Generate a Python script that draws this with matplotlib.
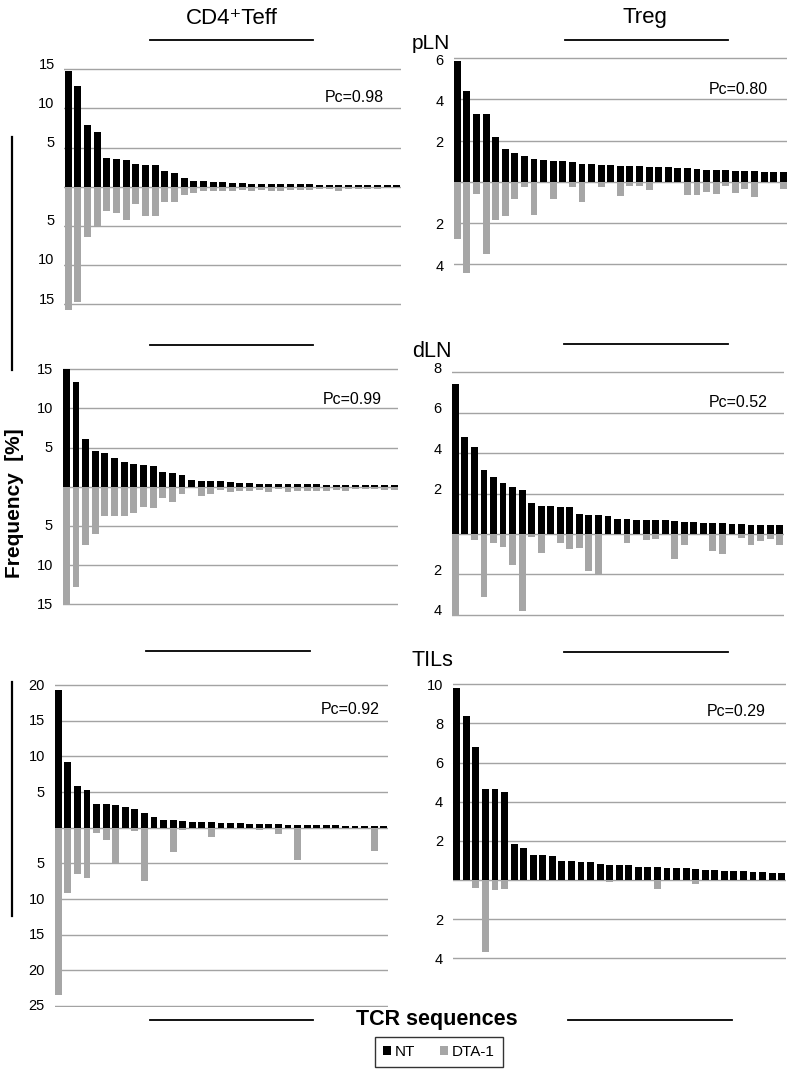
import matplotlib
matplotlib.use("Agg")
import matplotlib.pyplot as plt
from matplotlib.patches import Patch
from matplotlib.lines import Line2D
from matplotlib.transforms import ScaledTranslation

plt.rcParams['font.family'] = ['Liberation Sans', 'DejaVu Sans']

W, H = 798, 1070

# --- data (frequency in %, NT above / DTA-1 below) ---
cd4_pln_nt = [14.8, 12.8, 7.9, 7.0, 3.7, 3.6, 3.4, 2.9, 2.8, 2.8, 2.0, 1.8, 1.1, 0.75, 0.7,
              0.6, 0.55, 0.45, 0.42, 0.4, 0.4, 0.38, 0.35, 0.33, 0.32, 0.3, 0.28, 0.26, 0.25,
              0.23, 0.22, 0.2, 0.2, 0.18, 0.17]
cd4_pln_dta = [15.7, 14.7, 6.4, 5.0, 3.1, 3.4, 4.2, 2.2, 3.7, 3.7, 1.9, 1.9, 1.0, 0.8, 0.55,
               0.55, 0.6, 0.5, 0.45, 0.5, 0.45, 0.5, 0.5, 0.4, 0.4, 0.45, 0.35, 0.35, 0.5,
               0.3, 0.3, 0.25, 0.25, 0.2, 0.2]

treg_pln_nt = [5.86, 4.42, 3.27, 3.27, 2.15, 1.57, 1.38, 1.25, 1.12, 1.05, 1.02, 1.02, 0.94,
               0.86, 0.84, 0.81, 0.79, 0.78, 0.78, 0.76, 0.73, 0.73, 0.70, 0.66, 0.65, 0.63,
               0.57, 0.57, 0.57, 0.52, 0.50, 0.50, 0.49, 0.45, 0.45]
treg_pln_dta = [2.77, 4.45, 0.61, 3.51, 1.84, 1.65, 0.84, 0.28, 1.62, 0, 0.83, 0, 0.24, 0.97,
                0, 0.28, 0, 0.71, 0.19, 0.19, 0.40, 0, 0, 0, 0.63, 0.63, 0.49, 0.60, 0.19,
                0.55, 0.36, 0.74, 0, 0, 0.36]

cd4_dln_nt = [15.0, 13.4, 6.1, 4.6, 4.3, 3.7, 3.1, 2.9, 2.8, 2.7, 1.9, 1.8, 1.45, 0.85, 0.77,
              0.72, 0.68, 0.55, 0.45, 0.43, 0.4, 0.38, 0.36, 0.35, 0.33, 0.32, 0.3, 0.28,
              0.27, 0.25, 0.24, 0.22, 0.2, 0.2, 0.18]
cd4_dln_dta = [15.1, 12.8, 7.4, 6.0, 3.8, 3.8, 3.7, 3.3, 2.6, 2.7, 1.5, 2.0, 0.9, 0.1, 1.2,
               0.9, 0.4, 0.7, 0.5, 0.5, 0.4, 0.7, 0.35, 0.7, 0.5, 0.5, 0.5, 0.6, 0.4, 0.6,
               0.35, 0.35, 0.35, 0.38, 0.4]

treg_dln_nt = [7.45, 4.81, 4.33, 3.16, 2.82, 2.54, 2.31, 2.16, 1.52, 1.38, 1.37, 1.35, 1.32,
               1.0, 0.94, 0.94, 0.91, 0.76, 0.74, 0.69, 0.69, 0.69, 0.68, 0.64, 0.59, 0.59,
               0.56, 0.56, 0.54, 0.48, 0.48, 0.46, 0.46, 0.46, 0.46]
treg_dln_dta = [4.04, 0, 0.30, 3.10, 0.43, 0.66, 1.52, 3.81, 0.13, 0.92, 0.07, 0.43, 0.72,
                0.69, 1.81, 1.98, 0, 0, 0.43, 0.05, 0.30, 0.23, 0, 1.22, 0.53, 0.07, 0,
                0.82, 0.97, 0, 0.20, 0.53, 0.33, 0.25, 0.53]

cd4_til_nt = [19.3, 9.2, 5.8, 5.3, 3.3, 3.3, 3.2, 2.85, 2.6, 2.0, 1.55, 1.1, 1.07, 0.93,
              0.84, 0.75, 0.75, 0.7, 0.6, 0.6, 0.5, 0.48, 0.45, 0.45, 0.4, 0.38, 0.36, 0.35,
              0.33, 0.32, 0.3, 0.3, 0.28, 0.27, 0.25]
cd4_til_dta = [23.5, 9.1, 6.5, 7.0, 0.8, 1.7, 4.9, 0.23, 0.4, 7.5, 0.2, 0, 3.4, 0.37, 0.23,
               0, 1.35, 0, 0, 0.2, 0, 0.3, 0, 0.84, 0, 4.5, 0, 0, 0, 0, 0, 0, 0, 3.3, 0]

treg_til_nt = [9.81, 8.38, 6.78, 4.65, 4.63, 4.48, 1.86, 1.65, 1.28, 1.28, 1.23, 0.99, 0.97,
               0.94, 0.94, 0.80, 0.78, 0.77, 0.75, 0.68, 0.66, 0.65, 0.61, 0.61, 0.60, 0.58,
               0.53, 0.53, 0.46, 0.46, 0.44, 0.41, 0.39, 0.37, 0.36]
treg_til_dta = [0, 0, 0.41, 3.67, 0.53, 0.48, 0, 0, 0, 0, 0, 0, 0, 0, 0, 0, 0.1, 0, 0, 0, 0,
                0.44, 0, 0, 0, 0.22, 0, 0, 0, 0, 0, 0, 0, 0, 0]

pc_values = ["0.98", "0.80", "0.99", "0.52", "0.92", "0.29"]

# panel: data, ticks up, ticks down, ylim, pixel box (left, right, y of zero, px per unit), label lift px
panels = [
    (cd4_pln_nt, cd4_pln_dta, [5, 10, 15], [5, 10, 15], (-16, 15.1), (64.4, 400.6, 186.7, 7.83), 6),
    (treg_pln_nt, treg_pln_dta, [2, 4, 6], [2, 4], (-4.6, 6.05), (453.5, 787.1, 181.7, 20.6), -1),
    (cd4_dln_nt, cd4_dln_dta, [5, 10, 15], [5, 10, 15], (-15.4, 15.1), (62.5, 397.9, 486.7, 7.83), 1),
    (treg_dln_nt, treg_dln_dta, [2, 4, 6, 8], [2, 4], (-4.1, 8.05), (451.5, 783.5, 534.0, 20.2), 5),
    (cd4_til_nt, cd4_til_dta, [5, 10, 15, 20], [5, 10, 15, 20, 25], (-25.1, 20.1), (54.5, 387.5, 827.7, 7.13), 1),
    (treg_til_nt, treg_til_dta, [2, 4, 6, 8, 10], [2, 4], (-4.1, 10.05), (452.9, 785.5, 880.0, 19.57), 0),
]
pc_pos = [(384, 98), (768, 90), (382, 400), (768, 402), (380, 710), (766, 711)]

fig = plt.figure(figsize=(W / 100, H / 100), dpi=100)

for i, (nt, dta, up, down, ylim, (l, r, y0, unit), lift) in enumerate(panels):
    top = y0 - ylim[1] * unit
    bot = y0 - ylim[0] * unit
    ax = fig.add_axes([l / W, 1 - bot / H, (r - l) / W, (bot - top) / H])
    x = list(range(len(nt)))
    ticks = [-v for v in down] + [0] + up
    for t in ticks:
        ax.axhline(t, color='#a3a3a3', lw=1.0, zorder=0)
    ax.bar(x, nt, width=0.72, color='black', zorder=2)
    ax.bar(x, [-v for v in dta], width=0.72, color='#a6a6a6', zorder=2)
    ax.set_xlim(-0.4, len(nt) - 0.6)
    ax.set_ylim(*ylim)
    ax.set_xticks([])
    ax.set_yticks([-v for v in down] + up)
    ax.set_yticklabels([str(v) for v in down] + [str(v) for v in up])
    ax.tick_params(axis='y', length=0, pad=7, labelsize=10.5)
    for lab in ax.get_yticklabels():
        lab.set_transform(lab.get_transform() + ScaledTranslation(0, lift / 100, fig.dpi_scale_trans))
    for s in ax.spines.values():
        s.set_visible(False)
    ax.patch.set_alpha(0)
    px, py = pc_pos[i]
    fig.text(px / W, 1 - py / H, "Pc=" + pc_values[i], ha='right', va='center', fontsize=11.5)

# column titles and decorative lines
fig.text(232 / W, 1 - 18 / H, "CD4\u207aTeff", ha='center', va='center', fontsize=16)
fig.text(645 / W, 1 - 18 / H, "Treg", ha='center', va='center', fontsize=16)
fig.text(412 / W, 1 - 49 / H, "pLN", ha='left', va='baseline', fontsize=15)
fig.text(412 / W, 1 - 357 / H, "dLN", ha='left', va='baseline', fontsize=15.5)
fig.text(412 / W, 1 - 666 / H, "TILs", ha='left', va='baseline', fontsize=15.5)

for (x1, x2, y) in [(150, 313, 40), (565, 728, 40), (150, 313, 345), (564, 728, 344),
                    (146, 310, 651), (564, 728, 652), (150, 313, 1020), (568, 732, 1020)]:
    fig.add_artist(Line2D([x1 / W, x2 / W], [1 - y / H, 1 - y / H], color='black', lw=1.3))
for (y1, y2) in [(137, 370), (682, 916)]:
    fig.add_artist(Line2D([12 / W, 12 / W], [1 - y1 / H, 1 - y2 / H], color='black', lw=1.6))

fig.text(15 / W, 1 - 503 / H, "Frequency  [%]", rotation=90, ha='center', va='center',
         fontsize=15, fontweight='bold')
fig.text(437 / W, 1 - 1020 / H, "TCR sequences", ha='center', va='center',
         fontsize=15.5, fontweight='bold')

handles = [Patch(facecolor='black', edgecolor='none'), Patch(facecolor='#a6a6a6', edgecolor='none')]
leg = fig.legend(handles, ["NT", "DTA-1"], loc='center', bbox_to_anchor=(439 / W, 1 - 1052 / H),
                 ncol=2, frameon=True, fancybox=False, edgecolor='black', fontsize=11,
                 handlelength=0.5, handleheight=0.5, handletextpad=0.3, columnspacing=1.6,
                 borderpad=0.5)
leg.get_frame().set_linewidth(1.0)

fig.savefig("out.png", dpi=100)
plt.close(fig)
